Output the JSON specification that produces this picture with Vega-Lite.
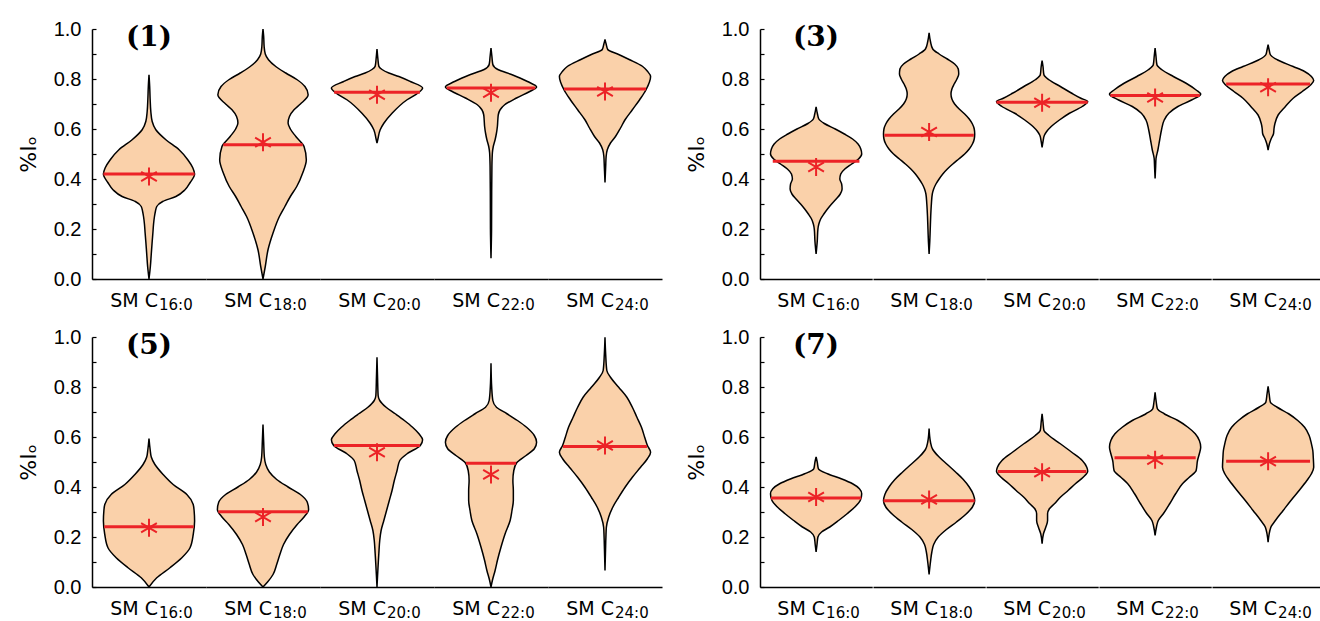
{
"$schema": "https://vega.github.io/schema/vega-lite/v6.json",
"padding": {"left": 17, "top": 19, "right": 0, "bottom": 0},
"config": {"view": {"stroke": null}},
"datasets": {
"p1": [
{"c":"16:0","k":"v","y":0,"d":0},{"c":"16:0","k":"v","y":0.05,"d":0.03},{"c":"16:0","k":"v","y":0.1,"d":0.05},{"c":"16:0","k":"v","y":0.15,"d":0.07},{"c":"16:0","k":"v","y":0.184,"d":0.085},{"c":"16:0","k":"v","y":0.22,"d":0.1},{"c":"16:0","k":"v","y":0.25,"d":0.12},{"c":"16:0","k":"v","y":0.27,"d":0.14},{"c":"16:0","k":"v","y":0.29,"d":0.17},{"c":"16:0","k":"v","y":0.31,"d":0.3},{"c":"16:0","k":"v","y":0.33,"d":0.59},{"c":"16:0","k":"v","y":0.357,"d":0.79},{"c":"16:0","k":"v","y":0.385,"d":0.9},{"c":"16:0","k":"v","y":0.42,"d":1.0},{"c":"16:0","k":"v","y":0.445,"d":0.96},{"c":"16:0","k":"v","y":0.477,"d":0.85},{"c":"16:0","k":"v","y":0.517,"d":0.66},{"c":"16:0","k":"v","y":0.557,"d":0.37},{"c":"16:0","k":"v","y":0.597,"d":0.15},{"c":"16:0","k":"v","y":0.63,"d":0.07},{"c":"16:0","k":"v","y":0.67,"d":0.04},{"c":"16:0","k":"v","y":0.72,"d":0.025},{"c":"16:0","k":"v","y":0.77,"d":0.015},{"c":"16:0","k":"v","y":0.817,"d":0},
{"c":"16:0","k":"med","y":0.42,"d":1.0},{"c":"16:0","k":"mean","y":0.41,"d":0,"t":"(1)"},
{"c":"18:0","k":"v","y":0,"d":0},{"c":"18:0","k":"v","y":0.05,"d":0.05},{"c":"18:0","k":"v","y":0.117,"d":0.11},{"c":"18:0","k":"v","y":0.184,"d":0.22},{"c":"18:0","k":"v","y":0.25,"d":0.36},{"c":"18:0","k":"v","y":0.29,"d":0.48},{"c":"18:0","k":"v","y":0.33,"d":0.6},{"c":"18:0","k":"v","y":0.37,"d":0.74},{"c":"18:0","k":"v","y":0.424,"d":0.87},{"c":"18:0","k":"v","y":0.477,"d":0.95},{"c":"18:0","k":"v","y":0.53,"d":0.9},{"c":"18:0","k":"v","y":0.57,"d":0.72},{"c":"18:0","k":"v","y":0.6,"d":0.6},{"c":"18:0","k":"v","y":0.624,"d":0.55},{"c":"18:0","k":"v","y":0.65,"d":0.58},{"c":"18:0","k":"v","y":0.677,"d":0.68},{"c":"18:0","k":"v","y":0.7,"d":0.82},{"c":"18:0","k":"v","y":0.737,"d":0.99},{"c":"18:0","k":"v","y":0.77,"d":0.92},{"c":"18:0","k":"v","y":0.797,"d":0.75},{"c":"18:0","k":"v","y":0.824,"d":0.5},{"c":"18:0","k":"v","y":0.85,"d":0.28},{"c":"18:0","k":"v","y":0.877,"d":0.12},{"c":"18:0","k":"v","y":0.9,"d":0.05},{"c":"18:0","k":"v","y":0.93,"d":0.025},{"c":"18:0","k":"v","y":0.97,"d":0.015},{"c":"18:0","k":"v","y":1.0,"d":0},
{"c":"18:0","k":"med","y":0.537,"d":0.87},{"c":"18:0","k":"mean","y":0.547,"d":0},
{"c":"20:0","k":"v","y":0.544,"d":0},{"c":"20:0","k":"v","y":0.56,"d":0.02},{"c":"20:0","k":"v","y":0.597,"d":0.07},{"c":"20:0","k":"v","y":0.623,"d":0.15},{"c":"20:0","k":"v","y":0.663,"d":0.33},{"c":"20:0","k":"v","y":0.717,"d":0.66},{"c":"20:0","k":"v","y":0.744,"d":0.9},{"c":"20:0","k":"v","y":0.764,"d":1.0},{"c":"20:0","k":"v","y":0.79,"d":0.73},{"c":"20:0","k":"v","y":0.81,"d":0.48},{"c":"20:0","k":"v","y":0.824,"d":0.26},{"c":"20:0","k":"v","y":0.838,"d":0.11},{"c":"20:0","k":"v","y":0.851,"d":0.04},{"c":"20:0","k":"v","y":0.88,"d":0.02},{"c":"20:0","k":"v","y":0.92,"d":0},
{"c":"20:0","k":"med","y":0.747,"d":0.94},{"c":"20:0","k":"mean","y":0.737,"d":0},
{"c":"22:0","k":"v","y":0.083,"d":0},{"c":"22:0","k":"v","y":0.2,"d":0.012},{"c":"22:0","k":"v","y":0.35,"d":0.015},{"c":"22:0","k":"v","y":0.45,"d":0.02},{"c":"22:0","k":"v","y":0.504,"d":0.03},{"c":"22:0","k":"v","y":0.53,"d":0.05},{"c":"22:0","k":"v","y":0.557,"d":0.09},{"c":"22:0","k":"v","y":0.584,"d":0.12},{"c":"22:0","k":"v","y":0.61,"d":0.14},{"c":"22:0","k":"v","y":0.637,"d":0.15},{"c":"22:0","k":"v","y":0.657,"d":0.16},{"c":"22:0","k":"v","y":0.677,"d":0.2},{"c":"22:0","k":"v","y":0.697,"d":0.3},{"c":"22:0","k":"v","y":0.724,"d":0.56},{"c":"22:0","k":"v","y":0.75,"d":0.85},{"c":"22:0","k":"v","y":0.768,"d":1.0},{"c":"22:0","k":"v","y":0.79,"d":0.8},{"c":"22:0","k":"v","y":0.818,"d":0.45},{"c":"22:0","k":"v","y":0.838,"d":0.15},{"c":"22:0","k":"v","y":0.858,"d":0.04},{"c":"22:0","k":"v","y":0.89,"d":0.02},{"c":"22:0","k":"v","y":0.924,"d":0},
{"c":"22:0","k":"med","y":0.764,"d":0.97},{"c":"22:0","k":"mean","y":0.745,"d":0},
{"c":"24:0","k":"v","y":0.386,"d":0},{"c":"24:0","k":"v","y":0.45,"d":0.015},{"c":"24:0","k":"v","y":0.49,"d":0.025},{"c":"24:0","k":"v","y":0.517,"d":0.05},{"c":"24:0","k":"v","y":0.544,"d":0.12},{"c":"24:0","k":"v","y":0.57,"d":0.23},{"c":"24:0","k":"v","y":0.604,"d":0.34},{"c":"24:0","k":"v","y":0.637,"d":0.44},{"c":"24:0","k":"v","y":0.677,"d":0.6},{"c":"24:0","k":"v","y":0.717,"d":0.76},{"c":"24:0","k":"v","y":0.757,"d":0.9},{"c":"24:0","k":"v","y":0.81,"d":1.0},{"c":"24:0","k":"v","y":0.831,"d":0.93},{"c":"24:0","k":"v","y":0.851,"d":0.82},{"c":"24:0","k":"v","y":0.878,"d":0.53},{"c":"24:0","k":"v","y":0.898,"d":0.3},{"c":"24:0","k":"v","y":0.918,"d":0.06},{"c":"24:0","k":"v","y":0.94,"d":0.025},{"c":"24:0","k":"v","y":0.958,"d":0},
{"c":"24:0","k":"med","y":0.76,"d":0.9},{"c":"24:0","k":"mean","y":0.75,"d":0}
],
"p3": [
{"c":"16:0","k":"v","y":0.1,"d":0},{"c":"16:0","k":"v","y":0.15,"d":0.025},{"c":"16:0","k":"v","y":0.2,"d":0.04},{"c":"16:0","k":"v","y":0.22,"d":0.06},{"c":"16:0","k":"v","y":0.24,"d":0.1},{"c":"16:0","k":"v","y":0.26,"d":0.17},{"c":"16:0","k":"v","y":0.28,"d":0.25},{"c":"16:0","k":"v","y":0.3,"d":0.34},{"c":"16:0","k":"v","y":0.32,"d":0.44},{"c":"16:0","k":"v","y":0.34,"d":0.53},{"c":"16:0","k":"v","y":0.36,"d":0.57},{"c":"16:0","k":"v","y":0.38,"d":0.56},{"c":"16:0","k":"v","y":0.4,"d":0.52},{"c":"16:0","k":"v","y":0.42,"d":0.54},{"c":"16:0","k":"v","y":0.44,"d":0.63},{"c":"16:0","k":"v","y":0.46,"d":0.78},{"c":"16:0","k":"v","y":0.48,"d":0.93},{"c":"16:0","k":"v","y":0.5,"d":1.0},{"c":"16:0","k":"v","y":0.52,"d":0.98},{"c":"16:0","k":"v","y":0.54,"d":0.92},{"c":"16:0","k":"v","y":0.56,"d":0.8},{"c":"16:0","k":"v","y":0.58,"d":0.62},{"c":"16:0","k":"v","y":0.6,"d":0.42},{"c":"16:0","k":"v","y":0.622,"d":0.18},{"c":"16:0","k":"v","y":0.64,"d":0.06},{"c":"16:0","k":"v","y":0.66,"d":0.03},{"c":"16:0","k":"v","y":0.689,"d":0},
{"c":"16:0","k":"med","y":0.471,"d":0.95},{"c":"16:0","k":"mean","y":0.448,"d":0,"t":"(3)"},
{"c":"18:0","k":"v","y":0.1,"d":0},{"c":"18:0","k":"v","y":0.15,"d":0.015},{"c":"18:0","k":"v","y":0.2,"d":0.025},{"c":"18:0","k":"v","y":0.25,"d":0.035},{"c":"18:0","k":"v","y":0.3,"d":0.05},{"c":"18:0","k":"v","y":0.34,"d":0.07},{"c":"18:0","k":"v","y":0.36,"d":0.1},{"c":"18:0","k":"v","y":0.38,"d":0.15},{"c":"18:0","k":"v","y":0.4,"d":0.22},{"c":"18:0","k":"v","y":0.42,"d":0.3},{"c":"18:0","k":"v","y":0.44,"d":0.4},{"c":"18:0","k":"v","y":0.46,"d":0.52},{"c":"18:0","k":"v","y":0.48,"d":0.65},{"c":"18:0","k":"v","y":0.5,"d":0.78},{"c":"18:0","k":"v","y":0.52,"d":0.88},{"c":"18:0","k":"v","y":0.54,"d":0.95},{"c":"18:0","k":"v","y":0.56,"d":0.99},{"c":"18:0","k":"v","y":0.58,"d":1.0},{"c":"18:0","k":"v","y":0.6,"d":0.99},{"c":"18:0","k":"v","y":0.62,"d":0.95},{"c":"18:0","k":"v","y":0.64,"d":0.88},{"c":"18:0","k":"v","y":0.66,"d":0.78},{"c":"18:0","k":"v","y":0.68,"d":0.66},{"c":"18:0","k":"v","y":0.7,"d":0.56},{"c":"18:0","k":"v","y":0.72,"d":0.5},{"c":"18:0","k":"v","y":0.74,"d":0.48},{"c":"18:0","k":"v","y":0.76,"d":0.5},{"c":"18:0","k":"v","y":0.78,"d":0.55},{"c":"18:0","k":"v","y":0.8,"d":0.61},{"c":"18:0","k":"v","y":0.82,"d":0.65},{"c":"18:0","k":"v","y":0.84,"d":0.64},{"c":"18:0","k":"v","y":0.86,"d":0.56},{"c":"18:0","k":"v","y":0.88,"d":0.4},{"c":"18:0","k":"v","y":0.9,"d":0.22},{"c":"18:0","k":"v","y":0.92,"d":0.08},{"c":"18:0","k":"v","y":0.95,"d":0.03},{"c":"18:0","k":"v","y":0.985,"d":0},
{"c":"18:0","k":"med","y":0.575,"d":0.98},{"c":"18:0","k":"mean","y":0.588,"d":0},
{"c":"20:0","k":"v","y":0.526,"d":0},{"c":"20:0","k":"v","y":0.55,"d":0.02},{"c":"20:0","k":"v","y":0.575,"d":0.05},{"c":"20:0","k":"v","y":0.59,"d":0.1},{"c":"20:0","k":"v","y":0.61,"d":0.2},{"c":"20:0","k":"v","y":0.636,"d":0.38},{"c":"20:0","k":"v","y":0.663,"d":0.6},{"c":"20:0","k":"v","y":0.69,"d":0.88},{"c":"20:0","k":"v","y":0.71,"d":1.0},{"c":"20:0","k":"v","y":0.723,"d":0.85},{"c":"20:0","k":"v","y":0.743,"d":0.65},{"c":"20:0","k":"v","y":0.77,"d":0.4},{"c":"20:0","k":"v","y":0.797,"d":0.15},{"c":"20:0","k":"v","y":0.817,"d":0.04},{"c":"20:0","k":"v","y":0.85,"d":0.02},{"c":"20:0","k":"v","y":0.874,"d":0},
{"c":"20:0","k":"med","y":0.707,"d":1.0},{"c":"20:0","k":"mean","y":0.705,"d":0},
{"c":"22:0","k":"v","y":0.402,"d":0},{"c":"22:0","k":"v","y":0.45,"d":0.012},{"c":"22:0","k":"v","y":0.482,"d":0.02},{"c":"22:0","k":"v","y":0.515,"d":0.06},{"c":"22:0","k":"v","y":0.556,"d":0.1},{"c":"22:0","k":"v","y":0.596,"d":0.14},{"c":"22:0","k":"v","y":0.636,"d":0.2},{"c":"22:0","k":"v","y":0.663,"d":0.3},{"c":"22:0","k":"v","y":0.69,"d":0.5},{"c":"22:0","k":"v","y":0.716,"d":0.8},{"c":"22:0","k":"v","y":0.739,"d":1.0},{"c":"22:0","k":"v","y":0.756,"d":0.9},{"c":"22:0","k":"v","y":0.783,"d":0.68},{"c":"22:0","k":"v","y":0.81,"d":0.4},{"c":"22:0","k":"v","y":0.837,"d":0.15},{"c":"22:0","k":"v","y":0.857,"d":0.04},{"c":"22:0","k":"v","y":0.89,"d":0.02},{"c":"22:0","k":"v","y":0.924,"d":0},
{"c":"22:0","k":"med","y":0.734,"d":0.98},{"c":"22:0","k":"mean","y":0.726,"d":0},
{"c":"24:0","k":"v","y":0.515,"d":0},{"c":"24:0","k":"v","y":0.542,"d":0.03},{"c":"24:0","k":"v","y":0.562,"d":0.07},{"c":"24:0","k":"v","y":0.582,"d":0.12},{"c":"24:0","k":"v","y":0.602,"d":0.13},{"c":"24:0","k":"v","y":0.622,"d":0.15},{"c":"24:0","k":"v","y":0.656,"d":0.22},{"c":"24:0","k":"v","y":0.69,"d":0.38},{"c":"24:0","k":"v","y":0.723,"d":0.55},{"c":"24:0","k":"v","y":0.75,"d":0.75},{"c":"24:0","k":"v","y":0.776,"d":0.93},{"c":"24:0","k":"v","y":0.794,"d":1.0},{"c":"24:0","k":"v","y":0.81,"d":0.95},{"c":"24:0","k":"v","y":0.83,"d":0.8},{"c":"24:0","k":"v","y":0.85,"d":0.55},{"c":"24:0","k":"v","y":0.877,"d":0.2},{"c":"24:0","k":"v","y":0.897,"d":0.05},{"c":"24:0","k":"v","y":0.915,"d":0.025},{"c":"24:0","k":"v","y":0.937,"d":0},
{"c":"24:0","k":"med","y":0.78,"d":0.92},{"c":"24:0","k":"mean","y":0.767,"d":0}
],
"p5": [
{"c":"16:0","k":"v","y":0,"d":0},{"c":"16:0","k":"v","y":0.037,"d":0.17},{"c":"16:0","k":"v","y":0.077,"d":0.46},{"c":"16:0","k":"v","y":0.117,"d":0.72},{"c":"16:0","k":"v","y":0.157,"d":0.9},{"c":"16:0","k":"v","y":0.21,"d":0.97},{"c":"16:0","k":"v","y":0.264,"d":1.0},{"c":"16:0","k":"v","y":0.304,"d":0.99},{"c":"16:0","k":"v","y":0.33,"d":0.97},{"c":"16:0","k":"v","y":0.37,"d":0.83},{"c":"16:0","k":"v","y":0.41,"d":0.53},{"c":"16:0","k":"v","y":0.45,"d":0.31},{"c":"16:0","k":"v","y":0.49,"d":0.13},{"c":"16:0","k":"v","y":0.52,"d":0.05},{"c":"16:0","k":"v","y":0.55,"d":0.025},{"c":"16:0","k":"v","y":0.594,"d":0},
{"c":"16:0","k":"med","y":0.241,"d":0.98},{"c":"16:0","k":"mean","y":0.237,"d":0,"t":"(5)"},
{"c":"18:0","k":"v","y":0,"d":0},{"c":"18:0","k":"v","y":0.02,"d":0.1},{"c":"18:0","k":"v","y":0.05,"d":0.22},{"c":"18:0","k":"v","y":0.09,"d":0.3},{"c":"18:0","k":"v","y":0.13,"d":0.37},{"c":"18:0","k":"v","y":0.17,"d":0.45},{"c":"18:0","k":"v","y":0.21,"d":0.58},{"c":"18:0","k":"v","y":0.25,"d":0.75},{"c":"18:0","k":"v","y":0.28,"d":0.9},{"c":"18:0","k":"v","y":0.31,"d":1.0},{"c":"18:0","k":"v","y":0.34,"d":0.97},{"c":"18:0","k":"v","y":0.37,"d":0.82},{"c":"18:0","k":"v","y":0.4,"d":0.55},{"c":"18:0","k":"v","y":0.43,"d":0.3},{"c":"18:0","k":"v","y":0.46,"d":0.14},{"c":"18:0","k":"v","y":0.49,"d":0.06},{"c":"18:0","k":"v","y":0.52,"d":0.03},{"c":"18:0","k":"v","y":0.58,"d":0.015},{"c":"18:0","k":"v","y":0.65,"d":0},
{"c":"18:0","k":"med","y":0.301,"d":0.98},{"c":"18:0","k":"mean","y":0.28,"d":0},
{"c":"20:0","k":"v","y":0,"d":0},{"c":"20:0","k":"v","y":0.133,"d":0.04},{"c":"20:0","k":"v","y":0.186,"d":0.06},{"c":"20:0","k":"v","y":0.226,"d":0.09},{"c":"20:0","k":"v","y":0.266,"d":0.15},{"c":"20:0","k":"v","y":0.306,"d":0.21},{"c":"20:0","k":"v","y":0.346,"d":0.27},{"c":"20:0","k":"v","y":0.386,"d":0.33},{"c":"20:0","k":"v","y":0.426,"d":0.38},{"c":"20:0","k":"v","y":0.466,"d":0.44},{"c":"20:0","k":"v","y":0.506,"d":0.5},{"c":"20:0","k":"v","y":0.533,"d":0.66},{"c":"20:0","k":"v","y":0.566,"d":0.95},{"c":"20:0","k":"v","y":0.589,"d":1.0},{"c":"20:0","k":"v","y":0.613,"d":0.92},{"c":"20:0","k":"v","y":0.639,"d":0.78},{"c":"20:0","k":"v","y":0.666,"d":0.6},{"c":"20:0","k":"v","y":0.693,"d":0.4},{"c":"20:0","k":"v","y":0.719,"d":0.2},{"c":"20:0","k":"v","y":0.746,"d":0.06},{"c":"20:0","k":"v","y":0.766,"d":0.025},{"c":"20:0","k":"v","y":0.84,"d":0.012},{"c":"20:0","k":"v","y":0.919,"d":0},
{"c":"20:0","k":"med","y":0.566,"d":0.94},{"c":"20:0","k":"mean","y":0.539,"d":0},
{"c":"22:0","k":"v","y":0,"d":0},{"c":"22:0","k":"v","y":0.026,"d":0.03},{"c":"22:0","k":"v","y":0.066,"d":0.09},{"c":"22:0","k":"v","y":0.106,"d":0.14},{"c":"22:0","k":"v","y":0.16,"d":0.22},{"c":"22:0","k":"v","y":0.213,"d":0.31},{"c":"22:0","k":"v","y":0.266,"d":0.42},{"c":"22:0","k":"v","y":0.306,"d":0.46},{"c":"22:0","k":"v","y":0.346,"d":0.49},{"c":"22:0","k":"v","y":0.386,"d":0.49},{"c":"22:0","k":"v","y":0.426,"d":0.48},{"c":"22:0","k":"v","y":0.466,"d":0.5},{"c":"22:0","k":"v","y":0.496,"d":0.56},{"c":"22:0","k":"v","y":0.526,"d":0.77},{"c":"22:0","k":"v","y":0.553,"d":0.95},{"c":"22:0","k":"v","y":0.579,"d":1.0},{"c":"22:0","k":"v","y":0.606,"d":0.95},{"c":"22:0","k":"v","y":0.639,"d":0.78},{"c":"22:0","k":"v","y":0.666,"d":0.58},{"c":"22:0","k":"v","y":0.693,"d":0.35},{"c":"22:0","k":"v","y":0.719,"d":0.12},{"c":"22:0","k":"v","y":0.746,"d":0.04},{"c":"22:0","k":"v","y":0.8,"d":0.015},{"c":"22:0","k":"v","y":0.895,"d":0},
{"c":"22:0","k":"med","y":0.495,"d":0.55},{"c":"22:0","k":"mean","y":0.45,"d":0},
{"c":"24:0","k":"v","y":0.066,"d":0},{"c":"24:0","k":"v","y":0.15,"d":0.012},{"c":"24:0","k":"v","y":0.2,"d":0.02},{"c":"24:0","k":"v","y":0.239,"d":0.03},{"c":"24:0","k":"v","y":0.279,"d":0.08},{"c":"24:0","k":"v","y":0.319,"d":0.17},{"c":"24:0","k":"v","y":0.359,"d":0.3},{"c":"24:0","k":"v","y":0.399,"d":0.44},{"c":"24:0","k":"v","y":0.439,"d":0.6},{"c":"24:0","k":"v","y":0.479,"d":0.78},{"c":"24:0","k":"v","y":0.513,"d":0.93},{"c":"24:0","k":"v","y":0.539,"d":1.0},{"c":"24:0","k":"v","y":0.566,"d":0.93},{"c":"24:0","k":"v","y":0.599,"d":0.87},{"c":"24:0","k":"v","y":0.639,"d":0.8},{"c":"24:0","k":"v","y":0.679,"d":0.7},{"c":"24:0","k":"v","y":0.719,"d":0.6},{"c":"24:0","k":"v","y":0.759,"d":0.48},{"c":"24:0","k":"v","y":0.799,"d":0.3},{"c":"24:0","k":"v","y":0.839,"d":0.12},{"c":"24:0","k":"v","y":0.866,"d":0.04},{"c":"24:0","k":"v","y":0.93,"d":0.015},{"c":"24:0","k":"v","y":0.999,"d":0},
{"c":"24:0","k":"med","y":0.562,"d":0.92},{"c":"24:0","k":"mean","y":0.566,"d":0}
],
"p7": [
{"c":"16:0","k":"v","y":0.14,"d":0},{"c":"16:0","k":"v","y":0.17,"d":0.02},{"c":"16:0","k":"v","y":0.2,"d":0.04},{"c":"16:0","k":"v","y":0.22,"d":0.12},{"c":"16:0","k":"v","y":0.24,"d":0.3},{"c":"16:0","k":"v","y":0.267,"d":0.5},{"c":"16:0","k":"v","y":0.293,"d":0.68},{"c":"16:0","k":"v","y":0.32,"d":0.85},{"c":"16:0","k":"v","y":0.347,"d":0.97},{"c":"16:0","k":"v","y":0.373,"d":1.0},{"c":"16:0","k":"v","y":0.393,"d":0.95},{"c":"16:0","k":"v","y":0.413,"d":0.8},{"c":"16:0","k":"v","y":0.433,"d":0.55},{"c":"16:0","k":"v","y":0.453,"d":0.25},{"c":"16:0","k":"v","y":0.473,"d":0.05},{"c":"16:0","k":"v","y":0.5,"d":0.025},{"c":"16:0","k":"v","y":0.52,"d":0},
{"c":"16:0","k":"med","y":0.356,"d":0.99},{"c":"16:0","k":"mean","y":0.36,"d":0,"t":"(7)"},
{"c":"18:0","k":"v","y":0.05,"d":0},{"c":"18:0","k":"v","y":0.1,"d":0.03},{"c":"18:0","k":"v","y":0.14,"d":0.06},{"c":"18:0","k":"v","y":0.17,"d":0.1},{"c":"18:0","k":"v","y":0.2,"d":0.2},{"c":"18:0","k":"v","y":0.23,"d":0.38},{"c":"18:0","k":"v","y":0.26,"d":0.6},{"c":"18:0","k":"v","y":0.29,"d":0.8},{"c":"18:0","k":"v","y":0.32,"d":0.95},{"c":"18:0","k":"v","y":0.345,"d":1.0},{"c":"18:0","k":"v","y":0.37,"d":0.97},{"c":"18:0","k":"v","y":0.4,"d":0.88},{"c":"18:0","k":"v","y":0.43,"d":0.75},{"c":"18:0","k":"v","y":0.46,"d":0.58},{"c":"18:0","k":"v","y":0.49,"d":0.4},{"c":"18:0","k":"v","y":0.52,"d":0.22},{"c":"18:0","k":"v","y":0.55,"d":0.08},{"c":"18:0","k":"v","y":0.58,"d":0.03},{"c":"18:0","k":"v","y":0.634,"d":0},
{"c":"18:0","k":"med","y":0.345,"d":1.0},{"c":"18:0","k":"mean","y":0.35,"d":0},
{"c":"20:0","k":"v","y":0.173,"d":0},{"c":"20:0","k":"v","y":0.213,"d":0.03},{"c":"20:0","k":"v","y":0.239,"d":0.08},{"c":"20:0","k":"v","y":0.266,"d":0.12},{"c":"20:0","k":"v","y":0.293,"d":0.12},{"c":"20:0","k":"v","y":0.313,"d":0.16},{"c":"20:0","k":"v","y":0.333,"d":0.27},{"c":"20:0","k":"v","y":0.359,"d":0.4},{"c":"20:0","k":"v","y":0.386,"d":0.57},{"c":"20:0","k":"v","y":0.413,"d":0.73},{"c":"20:0","k":"v","y":0.439,"d":0.9},{"c":"20:0","k":"v","y":0.463,"d":1.0},{"c":"20:0","k":"v","y":0.479,"d":0.98},{"c":"20:0","k":"v","y":0.506,"d":0.88},{"c":"20:0","k":"v","y":0.539,"d":0.65},{"c":"20:0","k":"v","y":0.573,"d":0.4},{"c":"20:0","k":"v","y":0.606,"d":0.15},{"c":"20:0","k":"v","y":0.626,"d":0.04},{"c":"20:0","k":"v","y":0.66,"d":0.02},{"c":"20:0","k":"v","y":0.693,"d":0},
{"c":"20:0","k":"med","y":0.462,"d":0.97},{"c":"20:0","k":"mean","y":0.459,"d":0},
{"c":"22:0","k":"v","y":0.206,"d":0},{"c":"22:0","k":"v","y":0.24,"d":0.03},{"c":"22:0","k":"v","y":0.266,"d":0.07},{"c":"22:0","k":"v","y":0.293,"d":0.18},{"c":"22:0","k":"v","y":0.333,"d":0.32},{"c":"22:0","k":"v","y":0.373,"d":0.45},{"c":"22:0","k":"v","y":0.413,"d":0.6},{"c":"22:0","k":"v","y":0.439,"d":0.75},{"c":"22:0","k":"v","y":0.466,"d":0.9},{"c":"22:0","k":"v","y":0.506,"d":0.93},{"c":"22:0","k":"v","y":0.533,"d":0.97},{"c":"22:0","k":"v","y":0.559,"d":1.0},{"c":"22:0","k":"v","y":0.586,"d":0.97},{"c":"22:0","k":"v","y":0.613,"d":0.88},{"c":"22:0","k":"v","y":0.639,"d":0.72},{"c":"22:0","k":"v","y":0.666,"d":0.5},{"c":"22:0","k":"v","y":0.693,"d":0.2},{"c":"22:0","k":"v","y":0.713,"d":0.05},{"c":"22:0","k":"v","y":0.74,"d":0.025},{"c":"22:0","k":"v","y":0.779,"d":0},
{"c":"22:0","k":"med","y":0.517,"d":0.89},{"c":"22:0","k":"mean","y":0.509,"d":0},
{"c":"24:0","k":"v","y":0.179,"d":0},{"c":"24:0","k":"v","y":0.239,"d":0.06},{"c":"24:0","k":"v","y":0.266,"d":0.16},{"c":"24:0","k":"v","y":0.306,"d":0.33},{"c":"24:0","k":"v","y":0.346,"d":0.5},{"c":"24:0","k":"v","y":0.386,"d":0.68},{"c":"24:0","k":"v","y":0.426,"d":0.85},{"c":"24:0","k":"v","y":0.453,"d":0.95},{"c":"24:0","k":"v","y":0.479,"d":1.0},{"c":"24:0","k":"v","y":0.519,"d":0.99},{"c":"24:0","k":"v","y":0.546,"d":0.98},{"c":"24:0","k":"v","y":0.573,"d":0.95},{"c":"24:0","k":"v","y":0.606,"d":0.9},{"c":"24:0","k":"v","y":0.639,"d":0.8},{"c":"24:0","k":"v","y":0.666,"d":0.65},{"c":"24:0","k":"v","y":0.693,"d":0.45},{"c":"24:0","k":"v","y":0.719,"d":0.2},{"c":"24:0","k":"v","y":0.739,"d":0.05},{"c":"24:0","k":"v","y":0.77,"d":0.025},{"c":"24:0","k":"v","y":0.803,"d":0},
{"c":"24:0","k":"med","y":0.503,"d":0.92},{"c":"24:0","k":"mean","y":0.503,"d":0}
]
},
"spacing": 14,
"vconcat": [
{"spacing": 23, "hconcat": [
{"data": {"name": "p1"},
 "bounds": "flush",
 "transform": [{"stack": "d", "groupby": ["c", "k", "y"], "offset": "center", "as": ["x0", "x1"]}],
 "facet": {"column": {"field": "c", "type": "nominal", "title": null, "sort": "ascending", "header": {"labels": false, "title": null}}},
 "spacing": 0,
 "spec": {"width": 114, "height": 250,
  "encoding": {
   "x": {"field": "x0", "type": "quantitative", "scale": {"domain": [-0.125, 1.125], "nice": false, "zero": false}, "axis": {"labels": false, "ticks": false, "title": null, "grid": false, "domainColor": "black", "domainWidth": 1.5}},
   "y": {"field": "y", "type": "quantitative", "scale": {"domain": [0, 1], "nice": false}, "axis": {"values": [0,0.1,0.2,0.3,0.4,0.5,0.6,0.7,0.8,0.9,1], "format": ".1f", "labelExpr": "indexof(['0.0','0.2','0.4','0.6','0.8','1.0'], datum.label) >= 0 ? datum.label : ''", "tickSize": -4, "tickColor": "black", "tickWidth": 1.2, "domainColor": "black", "domainWidth": 1.5, "grid": false, "labelFont": "Liberation Sans", "labelFontSize": 20, "labelColor": "black", "labelPadding": 15, "title": "%Iₒ", "titleFont": "DejaVu Sans", "titleFontSize": 22, "titleFontWeight": "normal", "titleColor": "black", "titlePadding": 13}}
  },
  "layer": [
   {"transform": [{"filter": "datum.k == 'v'"}], "mark": {"type": "area", "orient": "horizontal", "interpolate": "monotone", "fill": "#fad1aa", "stroke": "black", "strokeWidth": 1.5}, "encoding": {"x2": {"field": "x1"}}},
   {"transform": [{"filter": "datum.k == 'med'"}], "mark": {"type": "rule", "color": "#ec2327", "strokeWidth": 3}, "encoding": {"x2": {"field": "x1"}}},
   {"transform": [{"filter": "datum.k == 'mean'"}], "mark": {"type": "point", "shape": "M0,-1L0,1M-0.866,-0.5L0.866,0.5M-0.866,0.5L0.866,-0.5", "size": 330, "filled": false, "color": "#ec2327", "strokeWidth": 2, "opacity": 1}},
   {"transform": [{"filter": "isValid(datum.t)"}], "mark": {"type": "text", "font": "DejaVu Serif", "fontSize": 28, "fontWeight": "bold", "baseline": "middle", "color": "black"}, "encoding": {"y": {"datum": 0.963}, "text": {"field": "t"}}},
   {"transform": [{"filter": "datum.k == 'mean'"}], "mark": {"type": "text", "text": "SM C", "align": "right", "baseline": "alphabetic", "dx": 9, "dy": 28, "font": "DejaVu Sans", "fontSize": 19, "color": "black"}, "encoding": {"y": {"datum": 0}}},
   {"transform": [{"filter": "datum.k == 'mean'"}], "mark": {"type": "text", "align": "left", "baseline": "alphabetic", "dx": 10, "dy": 31, "font": "DejaVu Sans", "fontSize": 15, "color": "black"}, "encoding": {"y": {"datum": 0}, "text": {"field": "c"}}}
  ]}
},
{"data": {"name": "p3"},
 "bounds": "flush",
 "transform": [{"stack": "d", "groupby": ["c", "k", "y"], "offset": "center", "as": ["x0", "x1"]}],
 "facet": {"column": {"field": "c", "type": "nominal", "title": null, "sort": "ascending", "header": {"labels": false, "title": null}}},
 "spacing": 0,
 "spec": {"width": 112.2, "height": 250,
  "encoding": {
   "x": {"field": "x0", "type": "quantitative", "scale": {"domain": [-0.115, 1.115], "nice": false, "zero": false}, "axis": {"labels": false, "ticks": false, "title": null, "grid": false, "domainColor": "black", "domainWidth": 1.5}},
   "y": {"field": "y", "type": "quantitative", "scale": {"domain": [0, 1], "nice": false}, "axis": {"values": [0,0.1,0.2,0.3,0.4,0.5,0.6,0.7,0.8,0.9,1], "format": ".1f", "labelExpr": "indexof(['0.0','0.2','0.4','0.6','0.8','1.0'], datum.label) >= 0 ? datum.label : ''", "tickSize": -4, "tickColor": "black", "tickWidth": 1.2, "domainColor": "black", "domainWidth": 1.5, "grid": false, "labelFont": "Liberation Sans", "labelFontSize": 20, "labelColor": "black", "labelPadding": 15, "title": "%Iₒ", "titleFont": "DejaVu Sans", "titleFontSize": 22, "titleFontWeight": "normal", "titleColor": "black", "titlePadding": 13}}
  },
  "layer": [
   {"transform": [{"filter": "datum.k == 'v'"}], "mark": {"type": "area", "orient": "horizontal", "interpolate": "monotone", "fill": "#fad1aa", "stroke": "black", "strokeWidth": 1.5}, "encoding": {"x2": {"field": "x1"}}},
   {"transform": [{"filter": "datum.k == 'med'"}], "mark": {"type": "rule", "color": "#ec2327", "strokeWidth": 3}, "encoding": {"x2": {"field": "x1"}}},
   {"transform": [{"filter": "datum.k == 'mean'"}], "mark": {"type": "point", "shape": "M0,-1L0,1M-0.866,-0.5L0.866,0.5M-0.866,0.5L0.866,-0.5", "size": 330, "filled": false, "color": "#ec2327", "strokeWidth": 2, "opacity": 1}},
   {"transform": [{"filter": "isValid(datum.t)"}], "mark": {"type": "text", "font": "DejaVu Serif", "fontSize": 28, "fontWeight": "bold", "baseline": "middle", "color": "black"}, "encoding": {"y": {"datum": 0.963}, "text": {"field": "t"}}},
   {"transform": [{"filter": "datum.k == 'mean'"}], "mark": {"type": "text", "text": "SM C", "align": "right", "baseline": "alphabetic", "dx": 9, "dy": 28, "font": "DejaVu Sans", "fontSize": 19, "color": "black"}, "encoding": {"y": {"datum": 0}}},
   {"transform": [{"filter": "datum.k == 'mean'"}], "mark": {"type": "text", "align": "left", "baseline": "alphabetic", "dx": 10, "dy": 31, "font": "DejaVu Sans", "fontSize": 15, "color": "black"}, "encoding": {"y": {"datum": 0}, "text": {"field": "c"}}}
  ]}
}
]},
{"spacing": 23, "hconcat": [
{"data": {"name": "p5"},
 "bounds": "flush",
 "transform": [{"stack": "d", "groupby": ["c", "k", "y"], "offset": "center", "as": ["x0", "x1"]}],
 "facet": {"column": {"field": "c", "type": "nominal", "title": null, "sort": "ascending", "header": {"labels": false, "title": null}}},
 "spacing": 0,
 "spec": {"width": 114, "height": 250,
  "encoding": {
   "x": {"field": "x0", "type": "quantitative", "scale": {"domain": [-0.125, 1.125], "nice": false, "zero": false}, "axis": {"labels": false, "ticks": false, "title": null, "grid": false, "domainColor": "black", "domainWidth": 1.5}},
   "y": {"field": "y", "type": "quantitative", "scale": {"domain": [0, 1], "nice": false}, "axis": {"values": [0,0.1,0.2,0.3,0.4,0.5,0.6,0.7,0.8,0.9,1], "format": ".1f", "labelExpr": "indexof(['0.0','0.2','0.4','0.6','0.8','1.0'], datum.label) >= 0 ? datum.label : ''", "tickSize": -4, "tickColor": "black", "tickWidth": 1.2, "domainColor": "black", "domainWidth": 1.5, "grid": false, "labelFont": "Liberation Sans", "labelFontSize": 20, "labelColor": "black", "labelPadding": 15, "title": "%Iₒ", "titleFont": "DejaVu Sans", "titleFontSize": 22, "titleFontWeight": "normal", "titleColor": "black", "titlePadding": 13}}
  },
  "layer": [
   {"transform": [{"filter": "datum.k == 'v'"}], "mark": {"type": "area", "orient": "horizontal", "interpolate": "monotone", "fill": "#fad1aa", "stroke": "black", "strokeWidth": 1.5}, "encoding": {"x2": {"field": "x1"}}},
   {"transform": [{"filter": "datum.k == 'med'"}], "mark": {"type": "rule", "color": "#ec2327", "strokeWidth": 3}, "encoding": {"x2": {"field": "x1"}}},
   {"transform": [{"filter": "datum.k == 'mean'"}], "mark": {"type": "point", "shape": "M0,-1L0,1M-0.866,-0.5L0.866,0.5M-0.866,0.5L0.866,-0.5", "size": 330, "filled": false, "color": "#ec2327", "strokeWidth": 2, "opacity": 1}},
   {"transform": [{"filter": "isValid(datum.t)"}], "mark": {"type": "text", "font": "DejaVu Serif", "fontSize": 28, "fontWeight": "bold", "baseline": "middle", "color": "black"}, "encoding": {"y": {"datum": 0.963}, "text": {"field": "t"}}},
   {"transform": [{"filter": "datum.k == 'mean'"}], "mark": {"type": "text", "text": "SM C", "align": "right", "baseline": "alphabetic", "dx": 9, "dy": 28, "font": "DejaVu Sans", "fontSize": 19, "color": "black"}, "encoding": {"y": {"datum": 0}}},
   {"transform": [{"filter": "datum.k == 'mean'"}], "mark": {"type": "text", "align": "left", "baseline": "alphabetic", "dx": 10, "dy": 31, "font": "DejaVu Sans", "fontSize": 15, "color": "black"}, "encoding": {"y": {"datum": 0}, "text": {"field": "c"}}}
  ]}
},
{"data": {"name": "p7"},
 "bounds": "flush",
 "transform": [{"stack": "d", "groupby": ["c", "k", "y"], "offset": "center", "as": ["x0", "x1"]}],
 "facet": {"column": {"field": "c", "type": "nominal", "title": null, "sort": "ascending", "header": {"labels": false, "title": null}}},
 "spacing": 0,
 "spec": {"width": 112.2, "height": 250,
  "encoding": {
   "x": {"field": "x0", "type": "quantitative", "scale": {"domain": [-0.115, 1.115], "nice": false, "zero": false}, "axis": {"labels": false, "ticks": false, "title": null, "grid": false, "domainColor": "black", "domainWidth": 1.5}},
   "y": {"field": "y", "type": "quantitative", "scale": {"domain": [0, 1], "nice": false}, "axis": {"values": [0,0.1,0.2,0.3,0.4,0.5,0.6,0.7,0.8,0.9,1], "format": ".1f", "labelExpr": "indexof(['0.0','0.2','0.4','0.6','0.8','1.0'], datum.label) >= 0 ? datum.label : ''", "tickSize": -4, "tickColor": "black", "tickWidth": 1.2, "domainColor": "black", "domainWidth": 1.5, "grid": false, "labelFont": "Liberation Sans", "labelFontSize": 20, "labelColor": "black", "labelPadding": 15, "title": "%Iₒ", "titleFont": "DejaVu Sans", "titleFontSize": 22, "titleFontWeight": "normal", "titleColor": "black", "titlePadding": 13}}
  },
  "layer": [
   {"transform": [{"filter": "datum.k == 'v'"}], "mark": {"type": "area", "orient": "horizontal", "interpolate": "monotone", "fill": "#fad1aa", "stroke": "black", "strokeWidth": 1.5}, "encoding": {"x2": {"field": "x1"}}},
   {"transform": [{"filter": "datum.k == 'med'"}], "mark": {"type": "rule", "color": "#ec2327", "strokeWidth": 3}, "encoding": {"x2": {"field": "x1"}}},
   {"transform": [{"filter": "datum.k == 'mean'"}], "mark": {"type": "point", "shape": "M0,-1L0,1M-0.866,-0.5L0.866,0.5M-0.866,0.5L0.866,-0.5", "size": 330, "filled": false, "color": "#ec2327", "strokeWidth": 2, "opacity": 1}},
   {"transform": [{"filter": "isValid(datum.t)"}], "mark": {"type": "text", "font": "DejaVu Serif", "fontSize": 28, "fontWeight": "bold", "baseline": "middle", "color": "black"}, "encoding": {"y": {"datum": 0.963}, "text": {"field": "t"}}},
   {"transform": [{"filter": "datum.k == 'mean'"}], "mark": {"type": "text", "text": "SM C", "align": "right", "baseline": "alphabetic", "dx": 9, "dy": 28, "font": "DejaVu Sans", "fontSize": 19, "color": "black"}, "encoding": {"y": {"datum": 0}}},
   {"transform": [{"filter": "datum.k == 'mean'"}], "mark": {"type": "text", "align": "left", "baseline": "alphabetic", "dx": 10, "dy": 31, "font": "DejaVu Sans", "fontSize": 15, "color": "black"}, "encoding": {"y": {"datum": 0}, "text": {"field": "c"}}}
  ]}
}
]}
]
}
